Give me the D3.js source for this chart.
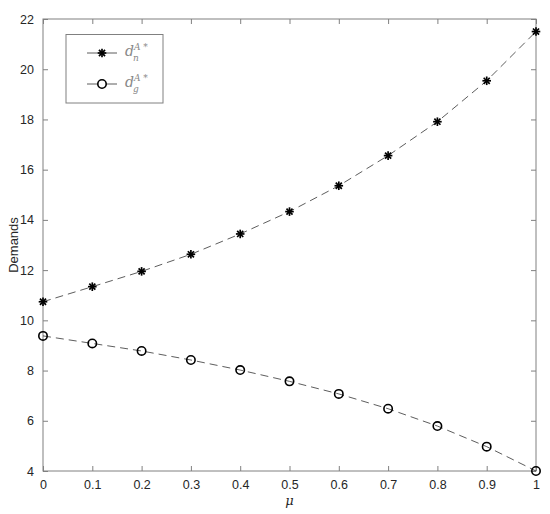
<!DOCTYPE html>
<html><head><meta charset="utf-8">
<script src="https://cdn.jsdelivr.net/npm/d3@7"></script>
<style>body{margin:0;background:#fff}</style>
</head><body>
<svg id="c" width="550" height="514"></svg>
<script>
const mu = [0,0.1,0.2,0.3,0.4,0.5,0.6,0.7,0.8,0.9,1];
const dn = [10.74,11.34,11.95,12.63,13.44,14.33,15.36,16.56,17.91,19.54,21.50];
const dg = [9.38,9.08,8.78,8.42,8.02,7.57,7.07,6.48,5.79,4.97,4.00];
const xTicks = [0,0.1,0.2,0.3,0.4,0.5,0.6,0.7,0.8,0.9,1];
const yTicks = [4,6,8,10,12,14,16,18,20,22];

const svg = d3.select("#c");
const L=43,R=536,T=19,B=471;
const x = d3.scaleLinear().domain([0,1]).range([L,R]);
const y = d3.scaleLinear().domain([4,22]).range([B,T]);
const axisCol="#808080", txtCol="#262626", font="Liberation Sans, Arial, sans-serif";

svg.append("rect").attr("x",L).attr("y",T).attr("width",R-L).attr("height",B-T)
  .attr("fill","none").attr("stroke",axisCol).attr("stroke-width",1);

function styleAxis(g){
  g.select(".domain").remove();
  g.selectAll(".tick line").attr("stroke",axisCol);
  g.selectAll(".tick text").attr("fill",txtCol).style("font-family",font).style("font-size","12.5px");
}
const fmt = d => d===0?"0":(d===1?"1":d3.format(".1f")(d));
svg.append("g").attr("transform",`translate(0,${B})`)
  .call(d3.axisBottom(x).tickValues(xTicks).tickFormat(fmt).tickSizeInner(-5).tickSizeOuter(0).tickPadding(9))
  .call(styleAxis);
svg.append("g").attr("transform",`translate(0,${T})`)
  .call(d3.axisTop(x).tickValues(xTicks).tickFormat("").tickSizeInner(-5).tickSizeOuter(0))
  .call(styleAxis);
svg.append("g").attr("transform",`translate(${L},0)`)
  .call(d3.axisLeft(y).tickValues(yTicks).tickSizeInner(-5).tickSizeOuter(0).tickPadding(9))
  .call(styleAxis);
svg.append("g").attr("transform",`translate(${R},0)`)
  .call(d3.axisRight(y).tickValues(yTicks).tickFormat("").tickSizeInner(-5).tickSizeOuter(0))
  .call(styleAxis);

svg.append("text").attr("x",x(0.5)).attr("y",505).attr("text-anchor","middle")
  .attr("fill",txtCol).style("font-family","DejaVu Serif, serif").style("font-style","italic").style("font-size","13px").text("μ");
svg.append("text").attr("transform",`translate(18,${(T+B)/2}) rotate(-90)`).attr("text-anchor","middle")
  .attr("fill",txtCol).style("font-family",font).style("font-size","13px").text("Demands");

const line = d3.line().x((d,i)=>x(mu[i])).y(d=>y(d));
[dn,dg].forEach(s=>{
  svg.append("path").attr("d",line(s)).attr("fill","none").attr("stroke","#333")
    .attr("stroke-width",0.8).attr("stroke-dasharray","8,5");
});

function star(g,cx,cy,r){
  for(let k=0;k<4;k++){
    const a=k*Math.PI/4;
    g.append("line").attr("x1",cx-r*Math.cos(a)).attr("y1",cy-r*Math.sin(a))
      .attr("x2",cx+r*Math.cos(a)).attr("y2",cy+r*Math.sin(a))
      .attr("stroke","#000").attr("stroke-width",1.7);
  }
}
const gs = svg.append("g");
dn.forEach((v,i)=>star(gs,x(mu[i]),y(v),4.3));
svg.append("g").selectAll("circle").data(dg).join("circle")
  .attr("cx",(d,i)=>x(mu[i])).attr("cy",d=>y(d)).attr("r",4.2)
  .attr("fill","none").attr("stroke","#000").attr("stroke-width",1.6);

const lg = svg.append("g");
lg.append("rect").attr("x",66).attr("y",34.5).attr("width",97).attr("height",68.5)
  .attr("fill","#fff").attr("stroke",axisCol).attr("stroke-width",1);
const rows=[{y:53,t:"n",m:"star"},{y:84,t:"g",m:"circle"}];
rows.forEach(r=>{
  lg.append("line").attr("x1",87).attr("x2",117).attr("y1",r.y).attr("y2",r.y).attr("stroke","#333").attr("stroke-width",0.8);
  if(r.m==="star") star(lg,102,r.y,4.3);
  else lg.append("circle").attr("cx",102).attr("cy",r.y).attr("r",4.2).attr("fill","#fff").attr("stroke","#000").attr("stroke-width",1.6);
  const t = lg.append("text").attr("x",125).attr("y",r.y+3).attr("fill","#888")
    .style("font-family","DejaVu Serif, serif").style("font-style","italic").style("font-size","14px");
  t.append("tspan").text("d");
  t.append("tspan").attr("dy",-6).style("font-size","9px").text("A *");
  t.append("tspan").attr("x",133).attr("dy",11).style("font-size","9px").text(r.t);
});
</script>
</body></html>
